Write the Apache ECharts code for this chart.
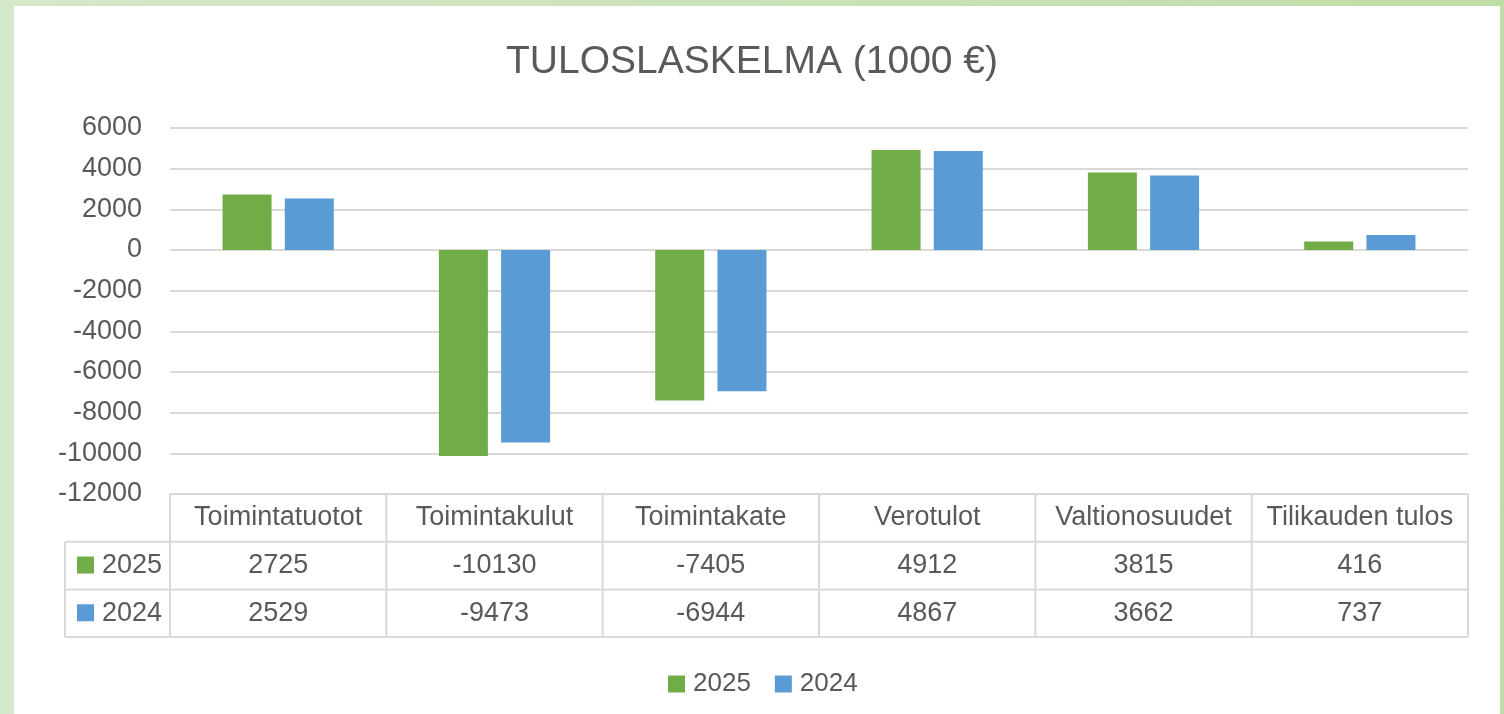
<!DOCTYPE html>
<html>
<head>
<meta charset="utf-8">
<script src="https://cdn.jsdelivr.net/npm/echarts@6/dist/echarts.min.js"></script>
<style>
    html, body { margin: 0; padding: 0; }
    body {
        width: 1504px; height: 714px; overflow: hidden; position: relative;
        background: linear-gradient(to right, #d5e8cb, #bfdda7);
    }
    #paper { position: absolute; left: 14px; top: 6px; width: 1486px; height: 708px; background: #ffffff; }
    #main { position: absolute; left: 0; top: 0; width: 1504px; height: 714px; }
</style>
</head>
<body>
<div id="paper"></div>
<div id="main"></div>
<script>
// tuloslaskelman rivit
var categories = ['Toimintatuotot', 'Toimintakulut', 'Toimintakate', 'Verotulot', 'Valtionosuudet', 'Tilikauden tulos'];
var seriesNames = ['2025', '2024'];
var values2025 = [2725, -10130, -7405, 4912, 3815, 416];
var values2024 = [2529, -9473, -6944, 4867, 3662, 737];
var yMin = -12000;
var yMax = 6000;
var yStep = 2000;

var colors = ['#70ad47', '#5b9bd5'];
var textColor = '#595959';
var lineColor = '#d9d9d9';
var font = "'Liberation Sans', Arial, sans-serif";

// taulukon mitat (sivun koordinaateissa)
var gridLeft = 170, gridRight = 1468, gridTop = 128, tableTop = 494;
var rowH = 47.7;
var legendColLeft = 65;

var dom = document.getElementById('main');
var chart = echarts.init(dom);
var option = {
    animation: false,
    color: colors,
    textStyle: { fontFamily: font },
    title: {
        text: 'TULOSLASKELMA (1000 €)',
        left: 'center',
        top: 38,
        textStyle: { fontFamily: font, fontSize: 39, fontWeight: 'normal', color: textColor }
    },
    legend: {
        data: seriesNames,
        left: 663,
        top: 666,
        icon: 'rect',
        itemWidth: 17,
        itemHeight: 17,
        itemGap: 24,
        textStyle: { fontFamily: font, fontSize: 26, color: textColor, padding: [0, 0, 0, 3] }
    },
    grid: {
        left: gridLeft,
        right: 1504 - gridRight,
        top: gridTop,
        bottom: 714 - tableTop,
        containLabel: false
    },
    xAxis: {
        type: 'category',
        data: categories,
        axisLine: { show: false },
        axisTick: { show: false },
        axisLabel: { show: false }
    },
    yAxis: {
        type: 'value',
        min: yMin,
        max: yMax,
        interval: yStep,
        axisLine: { show: false },
        axisTick: { show: false },
        axisLabel: {
            margin: 28, fontSize: 27, color: textColor, fontFamily: font,
            formatter: function (v) { return String(v); }
        },
        splitLine: { lineStyle: { color: lineColor, width: 2 } }
    },
    series: [{
        name: seriesNames[0],
        type: 'bar',
        data: values2025,
        barWidth: 49,
        barGap: '27%'
    }, {
        name: seriesNames[1],
        type: 'bar',
        data: values2024,
        barWidth: 49,
        barGap: '27%'
    }]
};
chart.setOption(option);

// datataulukko akselin alle
var els = [];
var rows = [values2025, values2024];
var lineStyle = { stroke: lineColor, lineWidth: 2 };
var bottom = tableTop + rowH * 3;
var colW = (gridRight - gridLeft) / categories.length;

function hline(y, x1, x2) {
    els.push({ type: 'line', shape: { x1: x1, y1: y, x2: x2, y2: y }, style: lineStyle, silent: true });
}
function vline(x, y1, y2) {
    els.push({ type: 'line', shape: { x1: x, y1: y1, x2: x, y2: y2 }, style: lineStyle, silent: true });
}
function cellText(txt, x, y) {
    els.push({
        type: 'text', x: x, y: y, silent: true,
        style: { text: txt, fill: textColor, font: '27px ' + font, align: 'center', verticalAlign: 'middle' }
    });
}

hline(tableTop, gridLeft, gridRight);
for (var r = 1; r <= 3; r++) hline(tableTop + rowH * r, legendColLeft, gridRight);
vline(legendColLeft, tableTop + rowH, bottom);
for (var c = 0; c <= categories.length; c++) vline(gridLeft + colW * c, tableTop, bottom);

for (var i = 0; i < categories.length; i++) {
    var cx = chart.convertToPixel({ xAxisIndex: 0 }, categories[i]);
    cellText(categories[i], cx, tableTop + rowH / 2);
    for (var k = 0; k < rows.length; k++) {
        cellText(String(rows[k][i]), cx, tableTop + rowH * (k + 1.5));
    }
}
for (var k = 0; k < seriesNames.length; k++) {
    var cy = tableTop + rowH * (k + 1.5);
    els.push({ type: 'rect', shape: { x: 77, y: cy - 9, width: 17, height: 17 }, style: { fill: colors[k] }, silent: true });
    els.push({
        type: 'text', x: 102, y: cy, silent: true,
        style: { text: seriesNames[k], fill: textColor, font: '27px ' + font, align: 'left', verticalAlign: 'middle' }
    });
}
chart.setOption({ graphic: { elements: els } });
</script>
</body>
</html>
